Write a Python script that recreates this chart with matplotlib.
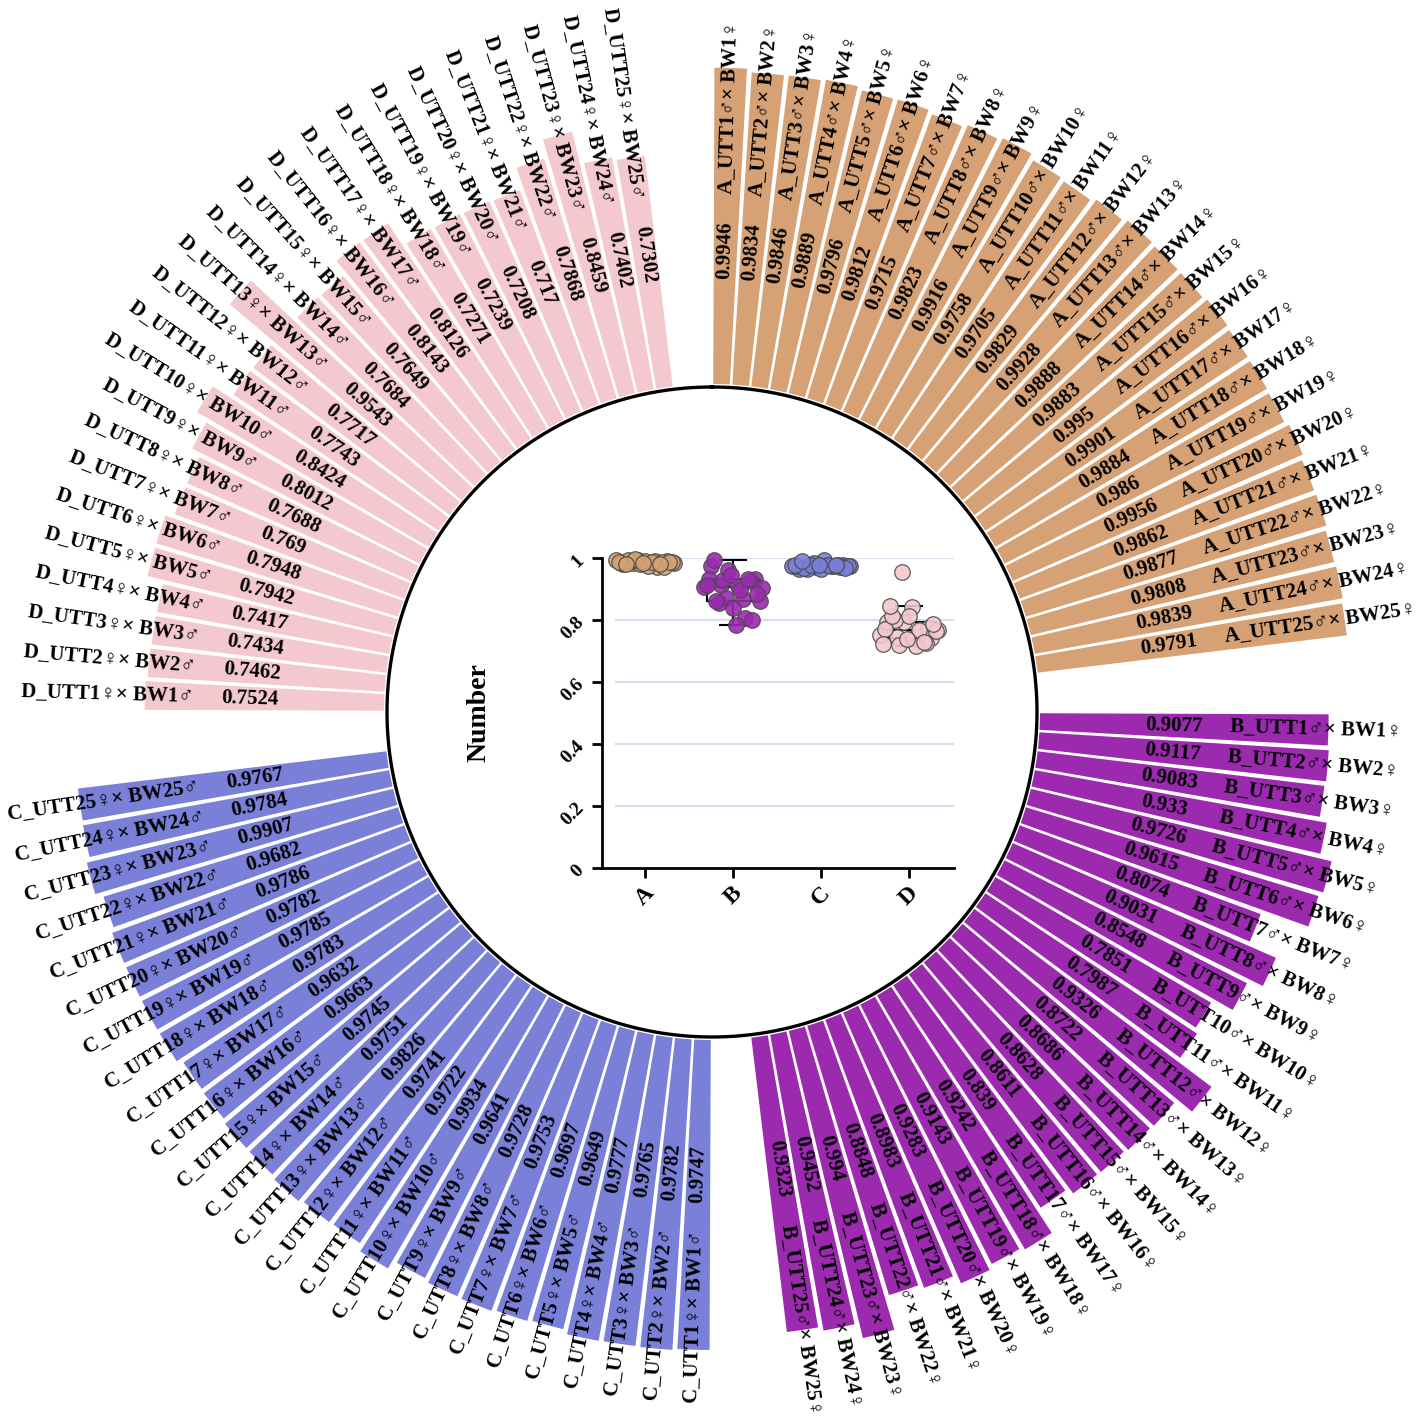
import numpy as np
import matplotlib
matplotlib.use("Agg")
import matplotlib.pyplot as plt

# values of the four groups
a_vals = [0.9946, 0.9834, 0.9846, 0.9889, 0.9796, 0.9812, 0.9715, 0.9823, 0.9916, 0.9758,
          0.9705, 0.9829, 0.9928, 0.9888, 0.9883, 0.995, 0.9901, 0.9884, 0.986, 0.9956,
          0.9862, 0.9877, 0.9808, 0.9839, 0.9791]
b_vals = [0.9077, 0.9117, 0.9083, 0.933, 0.9726, 0.9615, 0.8074, 0.9031, 0.8548, 0.7851,
          0.7987, 0.9326, 0.8722, 0.8686, 0.8628, 0.8611, 0.839, 0.9242, 0.9143, 0.9283,
          0.8983, 0.8848, 0.994, 0.9452, 0.9323]
c_vals = [0.9747, 0.9782, 0.9765, 0.9777, 0.9649, 0.9697, 0.9753, 0.9728, 0.9641, 0.9934,
          0.9722, 0.9741, 0.9826, 0.9751, 0.9745, 0.9663, 0.9632, 0.9783, 0.9785, 0.9782,
          0.9786, 0.9682, 0.9907, 0.9784, 0.9767]
d_vals = [0.7524, 0.7462, 0.7434, 0.7417, 0.7942, 0.7948, 0.769, 0.7688, 0.8012, 0.8424,
          0.7743, 0.7717, 0.9543, 0.7684, 0.7649, 0.8143, 0.8126, 0.7271, 0.7239, 0.7208,
          0.717, 0.7868, 0.8459, 0.7402, 0.7302]

groups = ["A", "B", "C", "D"]
a_names = ["A_UTT%d\u2642\u00d7 BW%d\u2640" % (i, i) for i in range(1, 26)]
b_names = ["B_UTT%d\u2642\u00d7 BW%d\u2640" % (i, i) for i in range(1, 26)]
c_names = ["C_UTT%d\u2640\u00d7 BW%d\u2642" % (i, i) for i in range(1, 26)]
d_names = ["D_UTT%d\u2640\u00d7 BW%d\u2642" % (i, i) for i in range(1, 26)]
yticks = [0, 0.2, 0.4, 0.6, 0.8, 1]

colors = ["#D6A175", "#9B2AAF", "#7A80D8", "#F3C8CE"]
all_vals = [a_vals, b_vals, c_vals, d_vals]
all_names = [a_names, b_names, c_names, d_names]

plt.rcParams["font.family"] = ["Liberation Serif", "Noto Sans CJK SC", "DejaVu Sans"]
plt.rcParams["font.weight"] = "bold"

W, H = 1417, 1423
fig = plt.figure(figsize=(W / 100, H / 100), dpi=100)

# polar axes, centred on the circle
px = 318.0          # pixels per unit of value
side = 1400.0
cx, cy = 712, 712
ax = fig.add_axes([(cx - side / 2) / W, (H - cy - side / 2) / H, side / W, side / H],
                  projection="polar")
ax.set_theta_zero_location("N")
ax.set_theta_direction(-1)
rmax = side / 2 / px
ax.set_ylim(0, rmax)
ax.set_axis_off()

r0 = 328 / px
r_val = 462 / px
r_name = 518 / px
slot = 360.0 / 108

for g in range(4):
    vals = all_vals[g]
    names = all_names[g]
    ang = 90 * g + (np.arange(25) + 0.5) * slot
    th = np.deg2rad(ang)
    ax.bar(th, vals, width=np.deg2rad(slot) * 0.87, bottom=r0, color=colors[g],
           edgecolor="none", zorder=1)
    for a, t, v, n in zip(ang, th, vals, names):
        if a < 180:
            rot = 90 - a
            ha = "left"
        else:
            rot = 270 - a
            ha = "right"
        ax.text(t, r_val, str(v), rotation=rot, rotation_mode="anchor", ha="center",
                va="center", fontsize=15, fontweight="bold", zorder=3)
        ax.text(t, r_name, n, rotation=rot, rotation_mode="anchor", ha=ha,
                va="center", fontsize=15, fontweight="bold", zorder=3)

# white disc in the middle
circ = np.linspace(0, 2 * np.pi, 500)
ax.fill(circ, np.full(500, 325 / px), color="white", zorder=2)
ax.plot(circ, np.full(500, 325 / px), color="black", lw=2.4, zorder=2)

# inner strip plot
ax2 = fig.add_axes([602 / W, (H - 868) / H, (954 - 602) / W, (868 - 558) / H])
ax2.patch.set_alpha(0)
ax2.set_xlim(0.51, 4.51)
ax2.set_ylim(0, 1)
for y in yticks[1:]:
    ax2.axhline(y, xmin=0.04, color="#D8DDF0", lw=1.6, zorder=0)

ax2.boxplot(all_vals, positions=[1, 2, 3, 4], widths=0.6, showfliers=False,
            medianprops=dict(color="black", lw=1.5), boxprops=dict(color="black", lw=1.5),
            whiskerprops=dict(color="black", lw=1.5), capprops=dict(color="black", lw=1.5),
            zorder=1)
offs = (np.arange(25) * 7 % 25) / 24.0 - 0.5
for g in range(4):
    ax2.scatter(g + 1 + offs * 0.66, all_vals[g], s=125, color=colors[g], edgecolor="#4a4a4a",
                linewidth=0.9, alpha=0.9, zorder=3, clip_on=False)

ax2.set_xticks([1, 2, 3, 4])
ax2.set_xticklabels(groups, rotation=45, fontsize=17, fontweight="bold")
ax2.set_yticks(yticks)
ax2.set_yticklabels(["0", "0.2", "0.4", "0.6", "0.8", "1"], rotation=45, fontsize=14,
                    fontweight="bold")
ax2.tick_params(width=2, length=7)
for s in ["top", "right"]:
    ax2.spines[s].set_visible(False)
for s in ["left", "bottom"]:
    ax2.spines[s].set_linewidth(2)
ax2.set_ylabel("Number", fontsize=20, fontweight="bold", labelpad=48)

fig.savefig("out.png", dpi=100)
